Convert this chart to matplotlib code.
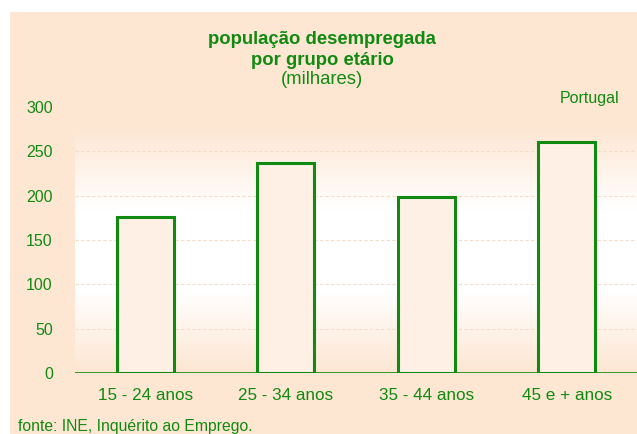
import numpy as np
import matplotlib.pyplot as plt
from matplotlib.colors import LinearSegmentedColormap
from matplotlib.patches import Rectangle

plt.rcParams['font.family'] = ['Liberation Sans', 'DejaVu Sans']

categories = ['15 - 24 anos', '25 - 34 anos', '35 - 44 anos', '45 e + anos']
values = [176, 237, 198, 260]
yticks = [0, 50, 100, 150, 200, 250, 300]

green = '#108a10'
peach = '#fde6d2'

fig = plt.figure(figsize=(6.37, 4.34), dpi=100, facecolor='white')
bg = Rectangle((10 / 637, 0), 1, 1 - 12 / 434, transform=fig.transFigure,
               facecolor=peach, edgecolor='none', zorder=-10)
fig.patches.append(bg)

ax = fig.add_axes([75 / 637, 1 - 373 / 434, 1 - 75 / 637, 266 / 434])
ax.set_facecolor('none')

# vertical gradient: peach at top and bottom, white in the middle
grad_cmap = LinearSegmentedColormap.from_list('g', [peach, '#ffffff', '#ffffff', peach])
g = np.linspace(0, 1, 256).reshape(-1, 1)
ax.imshow(g, cmap=grad_cmap, aspect='auto', extent=[-0.5, 3.5, 0, 277],
          origin='lower', zorder=0, interpolation='bicubic')

x = np.arange(len(categories))
ax.bar(x, values, width=0.405, facecolor='#fef0e4', edgecolor=green, linewidth=2.2, zorder=3)

for yv in yticks[1:-1]:
    ax.axhline(yv, color='#f6dcc6', linewidth=0.8, linestyle=(0, (3, 2)), zorder=1)
ax.axhline(0, color=green, linewidth=1.2, zorder=4)

ax.set_xlim(-0.5, 3.5)
ax.set_ylim(0, 300)
ax.set_yticks(yticks)
ax.set_xticks(x)
ax.set_xticklabels(categories)
ax.tick_params(axis='y', length=0, colors=green, labelsize=11.5, pad=16)
ax.tick_params(axis='x', length=0, colors=green, labelsize=12.3, pad=11)
for s in ax.spines.values():
    s.set_visible(False)

fig.text(322 / 637, 1 - 39 / 434, 'população desempregada', ha='center', va='center',
         color=green, fontsize=13.3, fontweight='bold')
fig.text(322 / 637, 1 - 60 / 434, 'por grupo etário', ha='center', va='center',
         color=green, fontsize=13.3, fontweight='bold')
fig.text(322 / 637, 1 - 80 / 434, '(milhares)', ha='center', va='center',
         color=green, fontsize=13.3)
fig.text(619 / 637, 1 - 98 / 434, 'Portugal', ha='right', va='center',
         color=green, fontsize=11.5)
fig.text(18 / 637, 1 - 427 / 434, 'fonte: INE, Inquérito ao Emprego.', ha='left', va='center',
         color=green, fontsize=11.3)

fig.savefig('out.png', dpi=100)
